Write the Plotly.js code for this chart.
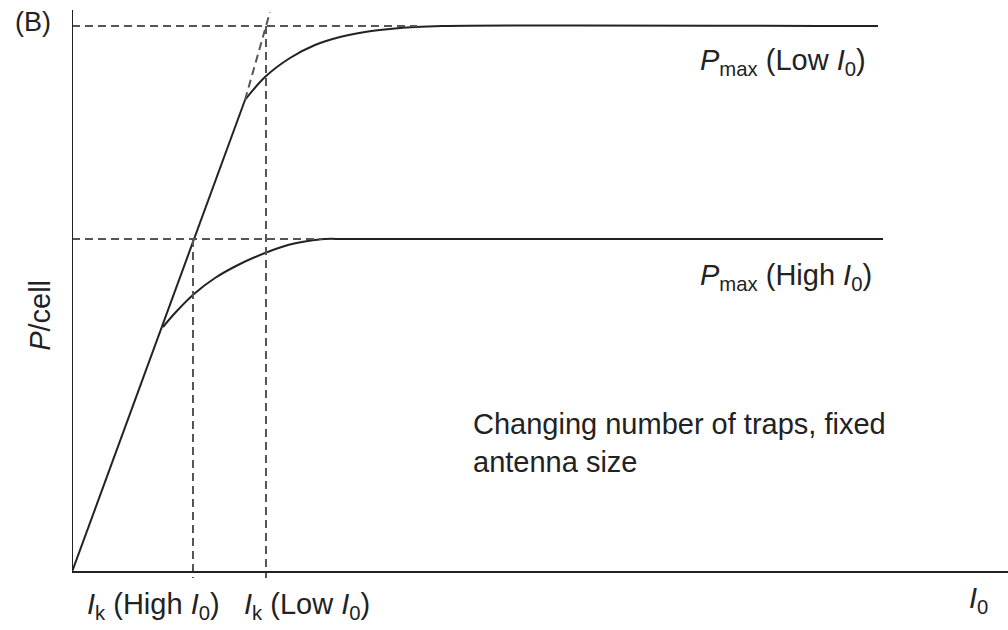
<!DOCTYPE html>
<html>
<head>
<meta charset="utf-8">
<script src="https://cdn.plot.ly/plotly-3.0.1.min.js"></script>
<style>html,body{margin:0;padding:0;background:#fff;}#chart{width:1008px;height:630px;}</style>
</head>
<body>
<div id="chart"></div>
<script>
// Values (arbitrary units, origin at axes corner)
const initialSlopeX = [0, 173];
const initialSlopeY = [0, 472];
const lowI0CurveX = [173, 193, 218, 243, 268, 293, 318, 343, 370, 806];
const lowI0CurveY = [472, 495, 514, 527, 535, 540, 543, 545, 546, 546];
const highI0CurveX = [91, 103, 122, 143, 166, 193, 216, 236, 253, 275, 811];
const highI0CurveY = [245, 259, 278, 294, 307, 319, 327, 331, 333, 333, 333];
const extensionX = [173, 198];
const extensionY = [472, 560];
const pmaxLow = 546;
const pmaxHigh = 333;
const ikHigh = 121;
const ikLow = 194;
const pmaxLowEnd = 345;
const pmaxHighEnd = 250;
const dropBottom = -6;

const solid = {color: '#222', width: 2};
const dashed = {color: '#555', width: 2, dash: '8px,5px'};

const traces = [
  {x: initialSlopeX, y: initialSlopeY, mode: 'lines', line: solid},
  {x: lowI0CurveX, y: lowI0CurveY, mode: 'lines', line: Object.assign({shape: 'spline', smoothing: 1}, solid)},
  {x: highI0CurveX, y: highI0CurveY, mode: 'lines', line: Object.assign({shape: 'spline', smoothing: 1}, solid)},
  {x: extensionX, y: extensionY, mode: 'lines', line: dashed},
  {x: [0, pmaxLowEnd], y: [pmaxLow, pmaxLow], mode: 'lines', line: dashed},
  {x: [0, pmaxHighEnd], y: [pmaxHigh, pmaxHigh], mode: 'lines', line: dashed},
  {x: [ikHigh, ikHigh], y: [pmaxHigh, dropBottom], mode: 'lines', line: dashed},
  {x: [ikLow, ikLow], y: [pmaxLow, dropBottom], mode: 'lines', line: dashed}
];

const font = {family: 'Liberation Sans, Arial, sans-serif', size: 29, color: '#222'};

const layout = {
  width: 1008, height: 630,
  margin: {l: 72, r: 0, t: 10, b: 48, pad: 0},
  paper_bgcolor: '#fff', plot_bgcolor: '#fff',
  showlegend: false,
  font: font,
  xaxis: {range: [0, 936], showgrid: false, zeroline: false, showline: false, showticklabels: false, ticks: '', fixedrange: true},
  yaxis: {range: [-10, 562], showgrid: false, zeroline: false, showline: false, showticklabels: false, ticks: '', fixedrange: true},
  shapes: [
    {type: 'line', xref: 'x', yref: 'y', x0: 0, x1: 0, y0: 0, y1: 562, line: {color: '#222', width: 2}},
    {type: 'line', xref: 'x', yref: 'y', x0: 0, x1: 936, y0: 0, y1: 0, line: {color: '#222', width: 2}}
  ],
  annotations: [
    {text: '(B)', x: -0.0417, y: 0.979, xref: 'paper', yref: 'paper', xanchor: 'center', yanchor: 'middle', showarrow: false, font: {size: 27}},
    {text: '<i>P</i>/cell', x: -0.0342, y: 0.467, xref: 'paper', yref: 'paper', xanchor: 'center', yanchor: 'middle', showarrow: false, textangle: -90},
    {text: '<i>P</i><sub>max</sub> (Low <i>I</i><sub>0</sub>)', x: 626, y: 510, xref: 'x', yref: 'y', xanchor: 'left', yanchor: 'middle', showarrow: false},
    {text: '<i>P</i><sub>max</sub> (High <i>I</i><sub>0</sub>)', x: 626, y: 295, xref: 'x', yref: 'y', xanchor: 'left', yanchor: 'middle', showarrow: false},
    {text: 'Changing number of traps, fixed<br>antenna size', x: 399, y: 129, xref: 'x', yref: 'y', xanchor: 'left', yanchor: 'middle', align: 'left', showarrow: false},
    {text: '<i>I</i><sub>k</sub> (High <i>I</i><sub>0</sub>)', x: 0.0139, y: -0.042, xref: 'paper', yref: 'paper', xanchor: 'left', yanchor: 'middle', showarrow: false},
    {text: '<i>I</i><sub>k</sub> (Low <i>I</i><sub>0</sub>)', x: 0.1816, y: -0.042, xref: 'paper', yref: 'paper', xanchor: 'left', yanchor: 'middle', showarrow: false},
    {text: '<i>I</i><sub>0</sub>', x: 0.968, y: -0.031, xref: 'paper', yref: 'paper', xanchor: 'center', yanchor: 'middle', showarrow: false}
  ]
};

Plotly.newPlot('chart', traces, layout, {displayModeBar: false, staticPlot: true});
</script>
</body>
</html>
